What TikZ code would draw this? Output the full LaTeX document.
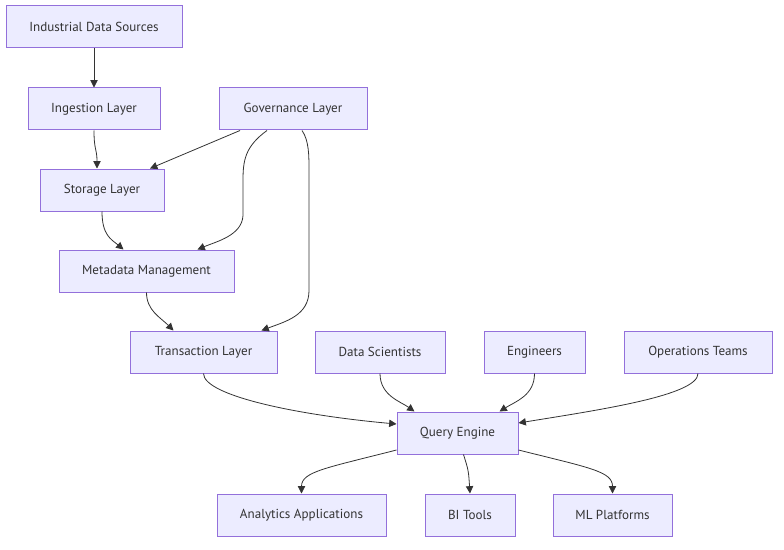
\documentclass[tikz,border=0pt]{standalone}
\usepackage{fontspec}
\setmainfont{PT Sans}
\usetikzlibrary{arrows.meta,calc}
\definecolor{nodefill}{HTML}{ECECFF}
\definecolor{nodeline}{HTML}{9370DB}
\definecolor{edgecol}{HTML}{333333}
\tikzset{
  box/.style={draw=nodeline,fill=nodefill,line width=0.75pt,minimum height=31.5pt,inner sep=0pt,font=\fontsize{9.8pt}{12pt}\selectfont,text=edgecol},
  link/.style={draw=edgecol,line width=0.6pt,-{Triangle[length=5.5pt,width=5.5pt]}}
}
\begin{document}
\begin{tikzpicture}[x=0.75pt,y=-0.75pt]
\useasboundingbox (0,0) rectangle (784,549);
\node[box,minimum width=132pt] (ids) at (94,27) {Industrial Data Sources};
\node[box,minimum width=99pt] (ing) at (94,109) {Ingestion Layer};
\node[box,minimum width=111pt] (gov) at (293,109) {Governance Layer};
\node[box,minimum width=93pt] (sto) at (102,190) {Storage Layer};
\node[box,minimum width=131.25pt] (meta) at (146.5,271) {Metadata Management};
\node[box,minimum width=110.25pt] (trans) at (203.5,352) {Transaction Layer};
\node[box,minimum width=97.5pt] (ds) at (380,352) {Data Scientists};
\node[box,minimum width=75.75pt] (eng) at (534.5,352) {Engineers};
\node[box,minimum width=111pt] (ops) at (698,352) {Operations Teams};
\node[box,minimum width=90.75pt] (qe) at (457.5,433) {Query Engine};
\node[box,minimum width=126.75pt] (ana) at (301.5,515) {Analytics Applications};
\node[box,minimum width=67.5pt] (bi) at (470,515) {BI Tools};
\node[box,minimum width=89.25pt] (ml) at (612.5,515) {ML Platforms};

\draw[link] (ids.south) -- (ing.north);
\draw[link] (ing.south) .. controls ($(ing.south)+(0,20)$) and ($(sto.north)+(-5,-20)$) .. ($(sto.north)+(-5,0)$);
\draw[link] ($(gov.south)+(-53,0)$) -- ($(sto.north)+(48,0)$);
\draw[link] (sto.south) .. controls ($(sto.south)+(0,24)$) and ($(meta.north)+(-35,-10)$) .. ($(meta.north)+(-23,0)$);
\draw[link] ($(gov.south)+(-26,0)$) .. controls ($(gov.south)+(-48,16)$) and ($(gov.south)+(-50,30)$) .. ($(gov.south)+(-50,50)$)
  -- ($(gov.south)+(-50,85)$) .. controls ($(gov.south)+(-51,105)$) and ($(meta.north)+(70,-8)$) .. ($(meta.north)+(51,0)$);
\draw[link] ($(gov.south)+(9,0)$) .. controls ($(gov.south)+(16,10)$) and ($(gov.south)+(16,25)$) .. ($(gov.south)+(16,40)$)
  -- ($(gov.south)+(16,160)$) .. controls ($(gov.south)+(16,185)$) and ($(trans.north)+(82,-9)$) .. ($(trans.north)+(58,0)$);
\draw[link] (meta.south) .. controls ($(meta.south)+(0,18)$) and ($(trans.north)+(-43,-13)$) .. ($(trans.north)+(-30,0)$);
\draw[link] (trans.south) .. controls ($(trans.south)+(0,22)$) and ($(qe.west)+(-100,-18)$) .. ($(qe.west)+(0,-9)$);
\draw[link] (ds.south) .. controls ($(ds.south)+(0,22)$) and ($(qe.north)+(-57,-10)$) .. ($(qe.north)+(-43,0)$);
\draw[link] (eng.south) .. controls ($(eng.south)+(0,22)$) and ($(qe.north)+(58,-10)$) .. ($(qe.north)+(42,0)$);
\draw[link] (ops.south) .. controls ($(ops.south)+(0,22)$) and ($(qe.east)+(80,-23)$) .. ($(qe.east)+(0,-10)$);
\draw[link] ($(qe.west)+(0,17)$) .. controls ($(qe.west)+(-70,35)$) and ($(ana.north)+(0,-22)$) .. (ana.north);
\draw[link] ($(qe.south)+(6,0)$) .. controls ($(qe.south)+(11,16)$) .. (bi.north);
\draw[link] ($(qe.east)+(0,17)$) .. controls ($(qe.east)+(72,35)$) and ($(ml.north)+(0,-22)$) .. (ml.north);
\end{tikzpicture}
\end{document}
